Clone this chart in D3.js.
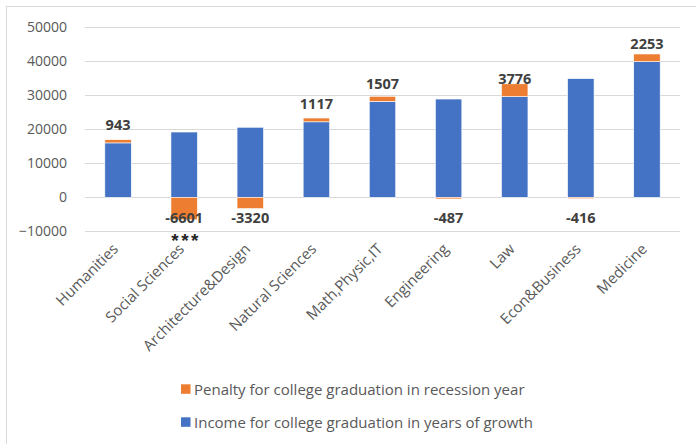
<!DOCTYPE html>
<html>
<head>
<meta charset="utf-8">
<script src="https://cdn.jsdelivr.net/npm/d3@7"></script>
<style>
  html, body { margin: 0; padding: 0; background: #fff; }
  svg { display: block; }
  text { font-family: "Open Sans", "Liberation Sans", sans-serif; }
</style>
</head>
<body>
<svg id="chart" width="696" height="444"></svg>
<script>
// Fields of study
const categories = [
  "Humanities", "Social Sciences", "Architecture&Design", "Natural Sciences",
  "Math,Physic,IT", "Engineering", "Law", "Econ&Business", "Medicine"
];
// Income for graduates entering in years of growth
const income = [16000, 19200, 20600, 22200, 28200, 28900, 29600, 34900, 39900];
// Penalty (difference) for graduating in a recession year
const penalty = [943, -6601, -3320, 1117, 1507, -487, 3776, -416, 2253];
// Significance markers shown under the penalty labels
const significance = ["", "***", "", "", "", "", "", "", ""];
const yTicks = [-10000, 0, 10000, 20000, 30000, 40000, 50000];
const seriesNames = [
  "Penalty for college graduation in recession year",
  "Income for college graduation in years of growth"
];
const colors = { income: "#4472C4", penalty: "#ED7D31" };

const svg = d3.select("#chart");

// Chart frame
svg.append("rect")
  .attr("x", 6.5).attr("y", 6.5)
  .attr("width", 700).attr("height", 450)
  .attr("fill", "none").attr("stroke", "#d9d9d9").attr("stroke-width", 1);

const plot = { left: 85, right: 680, top: 27.3, bottom: 231.3 };

const x = d3.scaleBand()
  .domain(categories)
  .range([plot.left, plot.right])
  .paddingInner(0.6).paddingOuter(0.3);

const y = d3.scaleLinear()
  .domain([-10000, 50000])
  .range([plot.bottom, plot.top]);

// Gridlines
svg.append("g")
  .selectAll("line")
  .data(yTicks)
  .join("line")
  .attr("x1", plot.left).attr("x2", plot.right)
  .attr("y1", d => Math.round(y(d)) + 0.5).attr("y2", d => Math.round(y(d)) + 0.5)
  .attr("stroke", "#d9d9d9").attr("stroke-width", 1);

// Y axis labels
const yAxis = d3.axisLeft(y).tickValues(yTicks).tickSize(0).tickPadding(0)
  .tickFormat(d3.format("d"));
const gy = svg.append("g").attr("transform", "translate(67,0)").call(yAxis);
gy.select(".domain").remove();
gy.selectAll("text")
  .attr("fill", "#595959")
  .style("font-size", "14px")
  .style("font-family", "'Open Sans', sans-serif");

// Build stacked layout: income from zero, penalty on top when positive, below zero when negative
const rows = categories.map((c, i) => ({ cat: c, income: income[i], penalty: penalty[i], sig: significance[i] }));

const bars = svg.append("g");
bars.selectAll("rect.inc")
  .data(rows)
  .join("rect")
  .attr("class", "inc")
  .attr("x", d => x(d.cat))
  .attr("width", x.bandwidth())
  .attr("y", d => y(d.income))
  .attr("height", d => y(0) - y(d.income))
  .attr("fill", colors.income)
  .attr("stroke", "#fff").attr("stroke-width", 0.6);

bars.selectAll("rect.pen")
  .data(rows)
  .join("rect")
  .attr("class", "pen")
  .attr("x", d => x(d.cat))
  .attr("width", x.bandwidth())
  .attr("y", d => d.penalty >= 0 ? y(d.income + d.penalty) : y(0))
  .attr("height", d => Math.abs(y(d.penalty) - y(0)))
  .attr("fill", colors.penalty)
  .attr("stroke", "#fff").attr("stroke-width", 0.6);

// Penalty value labels
svg.append("g")
  .selectAll("text")
  .data(rows)
  .join("text")
  .attr("x", d => x(d.cat) + x.bandwidth() / 2)
  .attr("y", d => d.penalty >= 0 ? y(d.income) - 18 : y(0) + 20)
  .attr("text-anchor", "middle")
  .attr("dominant-baseline", "central")
  .attr("fill", "#404040")
  .style("font-size", "14.5px")
  .style("font-weight", "bold")
  .text(d => d.penalty);

// Significance stars
svg.append("g")
  .selectAll("text")
  .data(rows.filter(d => d.sig))
  .join("text")
  .attr("x", d => x(d.cat) + x.bandwidth() / 2 + 2)
  .attr("y", y(0) + 50)
  .attr("text-anchor", "middle")
  .attr("fill", "#262626")
  .style("font-size", "19px")
  .style("font-weight", "bold")
  .style("letter-spacing", "2.5px")
  .style("font-family", "'Liberation Sans', sans-serif")
  .text(d => d.sig);

// Category labels, rotated
svg.append("g")
  .selectAll("text")
  .data(categories)
  .join("text")
  .attr("transform", d => `translate(${x(d) + x.bandwidth() / 2 + 1},${250}) rotate(-45)`)
  .attr("text-anchor", "end")
  .attr("fill", "#595959")
  .style("font-size", "15px")
  .text(d => d);

// Legend
const legend = svg.append("g");
const legendItems = [
  { name: seriesNames[0], color: colors.penalty, y: 389 },
  { name: seriesNames[1], color: colors.income, y: 422 }
];
legend.selectAll("rect")
  .data(legendItems)
  .join("rect")
  .attr("x", 181).attr("y", d => d.y - 4.7)
  .attr("width", 9.5).attr("height", 9.5)
  .attr("fill", d => d.color);
legend.selectAll("text")
  .data(legendItems)
  .join("text")
  .attr("x", 194).attr("y", d => d.y)
  .attr("dominant-baseline", "central")
  .attr("fill", "#595959")
  .style("font-size", "15px")
  .text(d => d.name);
</script>
</body>
</html>
